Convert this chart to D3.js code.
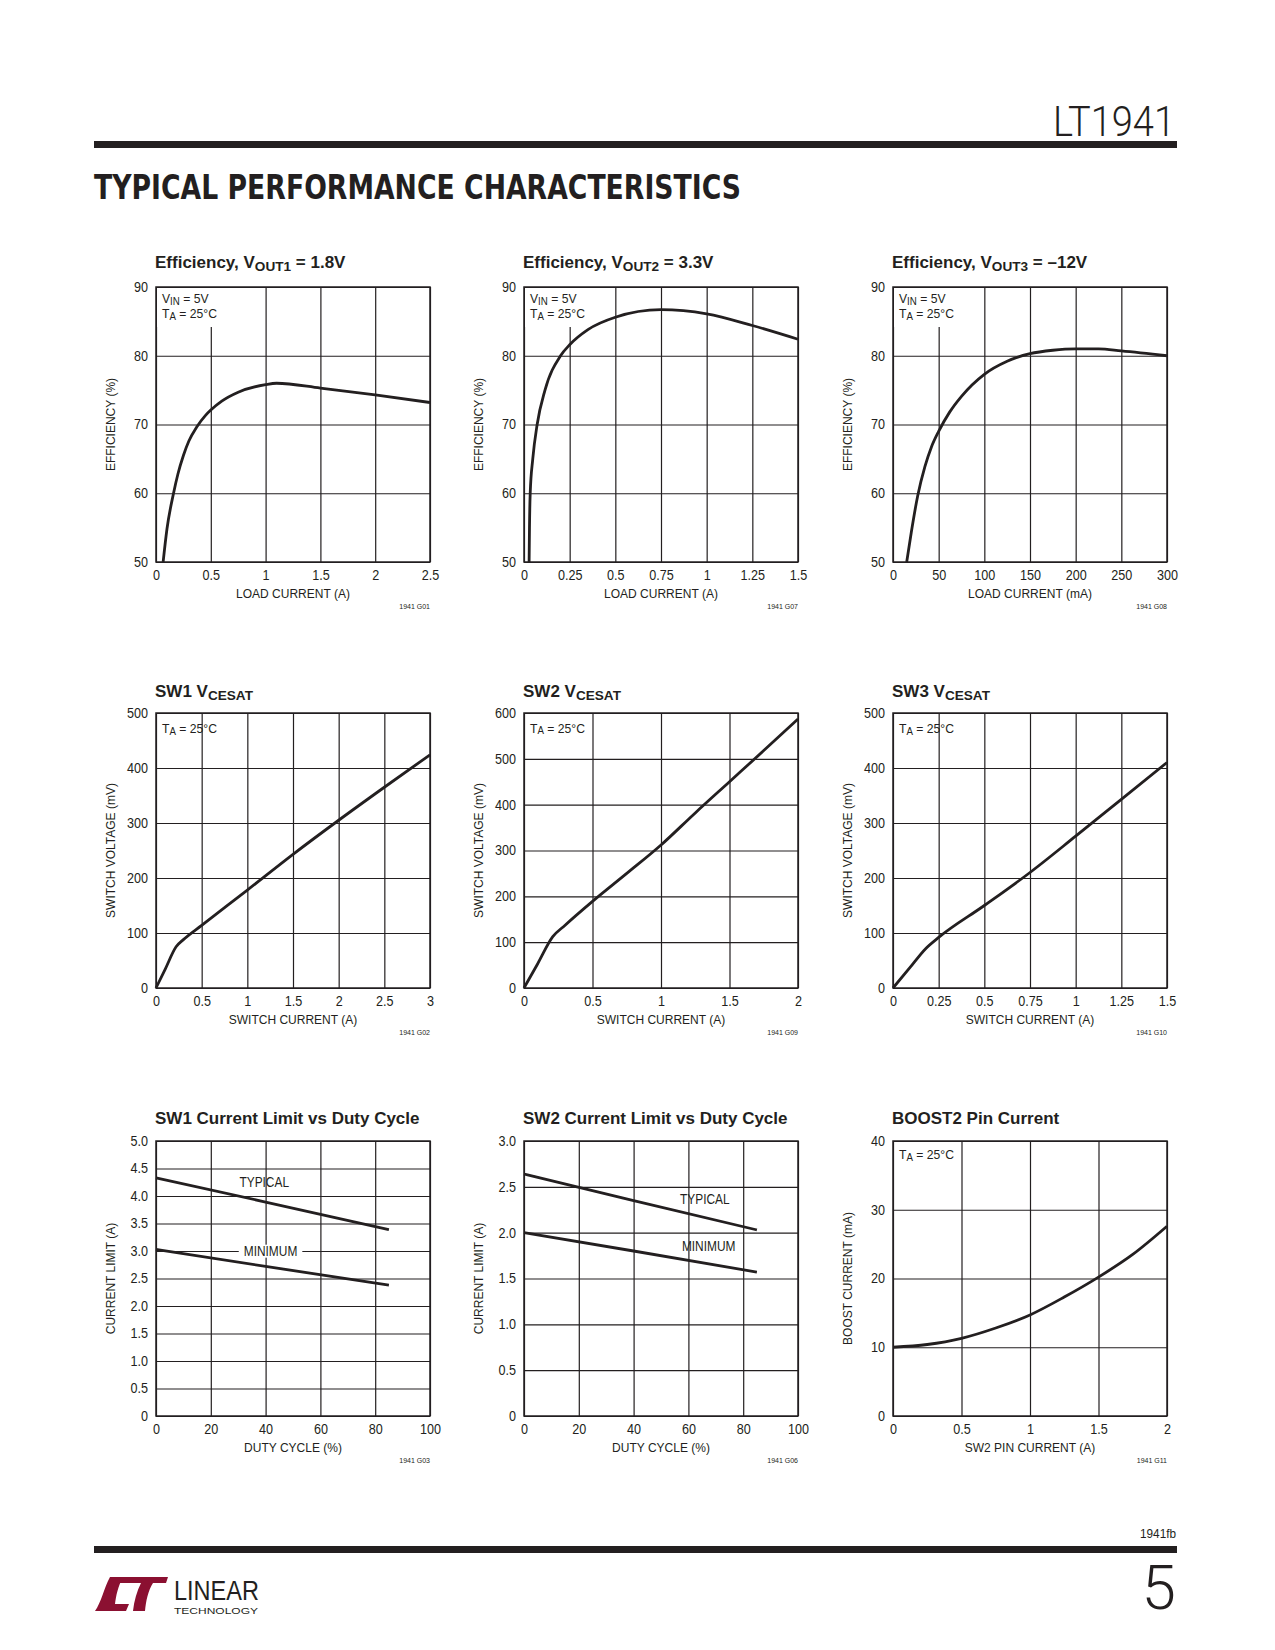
<!DOCTYPE html>
<html>
<head>
<meta charset="utf-8">
<script src="https://cdn.jsdelivr.net/npm/d3@7"></script>
<style>
  body { margin: 0; background: #fff; }
  text { font-family: "Liberation Sans", Arial, Helvetica, sans-serif; fill: #231f20; }
</style>
</head>
<body>
<svg id="page" width="1275" height="1650"></svg>
<script>
// ---------- data ----------

// Efficiency, VOUT1 = 1.8V  (load current A, efficiency %)
var eff1Current = [0.065, 0.1, 0.16, 0.2, 0.25, 0.3, 0.37, 0.45, 0.5, 0.6, 0.75, 1, 1.1, 1.5, 2, 2.5];
var eff1Value   = [50, 54.8, 60, 62.8, 65.5, 67.6, 69.6, 71.3, 72.1, 73.4, 74.7, 75.8, 76, 75.3, 74.3, 73.2];

// Efficiency, VOUT2 = 3.3V
var eff2Current = [0.028, 0.03, 0.034, 0.048, 0.072, 0.115, 0.2, 0.25, 0.35, 0.5, 0.75, 1, 1.25, 1.5];
var eff2Value   = [50, 55, 60, 65, 70, 75, 80, 81.6, 83.8, 85.6, 86.7, 86.1, 84.4, 82.4];

// Efficiency, VOUT3 = -12V  (load current mA)
var eff3Current = [15, 20, 27, 35, 42, 50, 62, 75, 100, 125, 150, 175, 200, 225, 250, 300];
var eff3Value   = [50, 54.3, 59.6, 63.9, 66.7, 69, 71.8, 74.1, 77.3, 79.2, 80.3, 80.8, 81, 81, 80.7, 80];

// SW1/SW2/SW3 VCESAT  (switch current A, switch voltage mV)
var sw1Current = [0, 0.1, 0.22, 0.3, 0.5, 1, 1.5, 2, 2.5, 3];
var sw1Voltage = [0, 34, 75, 88, 114, 178, 243, 305, 365, 424];
var sw2Current = [0, 0.1, 0.21, 0.3, 0.5, 0.75, 1, 1.25, 1.5, 1.75, 2];
var sw2Voltage = [0, 53, 112, 137, 189, 250, 312, 382, 450, 518, 587];
var sw3Current = [0, 0.09, 0.18, 0.25, 0.5, 0.75, 1, 1.25, 1.5];
var sw3Voltage = [0, 36, 72, 92, 150, 210, 276, 343, 410];

// current limit vs duty cycle  (duty %, current A)
var dutyCycle      = [0, 40, 85];
var sw1LimTypical  = [4.33, 3.89, 3.39];
var sw1LimMinimum  = [3.03, 2.72, 2.38];
var sw2LimTypical  = [2.64, 2.35, 2.03];
var sw2LimMinimum  = [2.0, 1.8, 1.57];

// BOOST2 pin current  (SW2 pin current A, boost current mA)
var boostSwCurrent = [0, 0.25, 0.5, 0.75, 1, 1.25, 1.5, 1.75, 2];
var boostCurrent   = [10, 10.4, 11.3, 12.8, 14.7, 17.3, 20.2, 23.5, 27.6];

// tick values and labels
var effYTicks   = [50, 60, 70, 80, 90];
var eff1XTicks  = [0, 0.5, 1, 1.5, 2, 2.5];
var eff2XTicks  = [0, 0.25, 0.5, 0.75, 1, 1.25, 1.5];
var eff3XTicks  = [0, 50, 100, 150, 200, 250, 300];
var sw1XTicks   = [0, 0.5, 1, 1.5, 2, 2.5, 3];
var sw2XTicks   = [0, 0.5, 1, 1.5, 2];
var sw3XTicks   = [0, 0.25, 0.5, 0.75, 1, 1.25, 1.5];
var sw500YTicks = [0, 100, 200, 300, 400, 500];
var sw600YTicks = [0, 100, 200, 300, 400, 500, 600];
var dutyXTicks  = [0, 20, 40, 60, 80, 100];
var lim1YTicks  = [0, 0.5, 1, 1.5, 2, 2.5, 3, 3.5, 4, 4.5, 5];
var lim1YLabels = ["0", "0.5", "1.0", "1.5", "2.0", "2.5", "3.0", "3.5", "4.0", "4.5", "5.0"];
var lim2YTicks  = [0, 0.5, 1, 1.5, 2, 2.5, 3];
var lim2YLabels = ["0", "0.5", "1.0", "1.5", "2.0", "2.5", "3.0"];
var boostYTicks = [0, 10, 20, 30, 40];

// ---------- layout ----------
var ink = "#231f20";
var colLeft = [156, 524, 893];
var rowTop = [287, 713, 1141];
var plotW = 274, plotH = 275;

var svg = d3.select("#page");

// squeeze text horizontally to imitate the condensed datasheet face
function condense(sel, k) {
  sel.each(function() {
    var len = this.getComputedTextLength();
    d3.select(this).attr("textLength", len * k).attr("lengthAdjust", "spacingAndGlyphs");
  });
  return sel;
}

// text with subscripts: parts starting with "_" are subscript
function richText(parent, x, y, parts, size, weight, subShift) {
  var t = parent.append("text")
    .attr("x", x).attr("y", y)
    .style("font-size", size + "px")
    .style("font-weight", weight || "normal");
  var shift = 0;
  parts.forEach(function(p) {
    var sub = p.charAt(0) === "_";
    var want = sub ? (subShift !== undefined ? subShift : Math.round(size * 0.2)) : 0;
    t.append("tspan")
      .attr("dy", want - shift)
      .style("font-size", (sub ? size * 0.8 : size) + "px")
      .text(sub ? p.slice(1) : p);
    shift = want;
  });
  return t;
}

function drawChart(c) {
  var g = svg.append("g").attr("transform", `translate(${c.left}, ${c.top})`);
  var x = d3.scaleLinear().domain(c.xDomain).range([0, plotW]);
  var y = d3.scaleLinear().domain(c.yDomain).range([plotH, 0]);

  // axes with grid lines
  var xAxis = d3.axisBottom(x).tickValues(c.xTicks)
    .tickSizeInner(-plotH).tickSizeOuter(0).tickPadding(8)
    .tickFormat(function(d, i) { return c.xLabels ? c.xLabels[i] : String(d); });
  var yAxis = d3.axisLeft(y).tickValues(c.yTicks)
    .tickSizeInner(-plotW).tickSizeOuter(0).tickPadding(8)
    .tickFormat(function(d, i) { return c.yLabels ? c.yLabels[i] : String(d); });

  var gx = g.append("g").attr("transform", `translate(0, ${plotH})`).call(xAxis);
  var gy = g.append("g").call(yAxis);
  [gx, gy].forEach(function(a) {
    a.select(".domain").remove();
    a.selectAll("line").attr("stroke", ink).attr("stroke-width", 1.2);
    var tx = a.selectAll("text").attr("fill", ink).style("font-size", "14px")
      .style("font-family", "'Liberation Sans', Arial, sans-serif");
    condense(tx, 0.9);
  });

  // frame
  g.append("rect").attr("width", plotW).attr("height", plotH)
    .attr("fill", "none").attr("stroke", ink).attr("stroke-width", 1.5);

  // note in upper-left corner
  if (c.notes) {
    var mask = c.noteMask ? g.append("rect").attr("fill", "#fff") : null;
    var widest = 0;
    c.notes.forEach(function(parts, i) {
      var t = richText(g, 6, c.noteY + i * 15, parts, 13.5, "normal", 1.5);
      condense(t, 0.9);
      widest = Math.max(widest, +t.attr("textLength"));
    });
    if (mask) {
      mask.attr("x", 1).attr("y", 1)
        .attr("width", widest + 8).attr("height", c.noteMask);
    }
  }

  // curves
  var line = d3.line()
    .x(function(d) { return x(d[0]); })
    .y(function(d) { return y(d[1]); })
    .curve(d3.curveMonotoneX);
  c.series.forEach(function(s) {
    g.append("path").datum(d3.zip(s[0], s[1]))
      .attr("d", line)
      .attr("fill", "none").attr("stroke", ink)
      .attr("stroke-width", 2.8).attr("stroke-linecap", "butt");
  });

  // curve labels
  (c.labels || []).forEach(function(l) {
    var lx = x(l.at[0]), ly = y(l.at[1]);
    var t = g.append("text").attr("x", lx).attr("y", ly)
      .attr("text-anchor", "middle").style("font-size", "14px").text(l.text);
    condense(t, 0.85);
    if (l.mask) {
      var w = +t.attr("textLength");
      g.insert("rect", function() { return t.node(); })
        .attr("x", lx - w / 2 - 5).attr("y", ly - 11)
        .attr("width", w + 10).attr("height", 13).attr("fill", "#fff");
    }
  });

  // titles
  richText(g, -1, -c.titleDy, c.title, 17, "bold");
  g.append("text").attr("x", plotW / 2).attr("y", plotH + 35.5)
    .attr("text-anchor", "middle").style("font-size", "12px").text(c.xTitle);
  g.append("text")
    .attr("transform", `translate(-41, ${plotH / 2}) rotate(-90)`)
    .attr("text-anchor", "middle").style("font-size", "12px").text(c.yTitle);
  g.append("text").attr("x", plotW).attr("y", plotH + 47)
    .attr("text-anchor", "end").style("font-size", "7px").text(c.code);
}

var vinNote = [["V", "_IN", " = 5V"], ["T", "_A", " = 25°C"]];
var taNote = [["T", "_A", " = 25°C"]];

var charts = [
  { left: colLeft[0], top: rowTop[0], xDomain: [0, 2.5], yDomain: [50, 90],
    xTicks: eff1XTicks, yTicks: effYTicks, series: [[eff1Current, eff1Value]],
    title: ["Efficiency, V", "_OUT1", " = 1.8V"], titleDy: 19,
    xTitle: "LOAD CURRENT (A)", yTitle: "EFFICIENCY (%)", code: "1941 G01",
    notes: vinNote, noteY: 16, noteMask: 39 },
  { left: colLeft[1], top: rowTop[0], xDomain: [0, 1.5], yDomain: [50, 90],
    xTicks: eff2XTicks, yTicks: effYTicks, series: [[eff2Current, eff2Value]],
    title: ["Efficiency, V", "_OUT2", " = 3.3V"], titleDy: 19,
    xTitle: "LOAD CURRENT (A)", yTitle: "EFFICIENCY (%)", code: "1941 G07",
    notes: vinNote, noteY: 16, noteMask: 39 },
  { left: colLeft[2], top: rowTop[0], xDomain: [0, 300], yDomain: [50, 90],
    xTicks: eff3XTicks, yTicks: effYTicks, series: [[eff3Current, eff3Value]],
    title: ["Efficiency, V", "_OUT3", " = \u201312V"], titleDy: 19,
    xTitle: "LOAD CURRENT (mA)", yTitle: "EFFICIENCY (%)", code: "1941 G08",
    notes: vinNote, noteY: 16, noteMask: 39 },
  { left: colLeft[0], top: rowTop[1], xDomain: [0, 3], yDomain: [0, 500],
    xTicks: sw1XTicks, yTicks: sw500YTicks, series: [[sw1Current, sw1Voltage]],
    title: ["SW1 V", "_CESAT"], titleDy: 16,
    xTitle: "SWITCH CURRENT (A)", yTitle: "SWITCH VOLTAGE (mV)", code: "1941 G02",
    notes: taNote, noteY: 20 },
  { left: colLeft[1], top: rowTop[1], xDomain: [0, 2], yDomain: [0, 600],
    xTicks: sw2XTicks, yTicks: sw600YTicks, series: [[sw2Current, sw2Voltage]],
    title: ["SW2 V", "_CESAT"], titleDy: 16,
    xTitle: "SWITCH CURRENT (A)", yTitle: "SWITCH VOLTAGE (mV)", code: "1941 G09",
    notes: taNote, noteY: 19.5 },
  { left: colLeft[2], top: rowTop[1], xDomain: [0, 1.5], yDomain: [0, 500],
    xTicks: sw3XTicks, yTicks: sw500YTicks, series: [[sw3Current, sw3Voltage]],
    title: ["SW3 V", "_CESAT"], titleDy: 16,
    xTitle: "SWITCH CURRENT (A)", yTitle: "SWITCH VOLTAGE (mV)", code: "1941 G10",
    notes: taNote, noteY: 20 },
  { left: colLeft[0], top: rowTop[2], xDomain: [0, 100], yDomain: [0, 5],
    xTicks: dutyXTicks, yTicks: lim1YTicks, yLabels: lim1YLabels,
    series: [[dutyCycle, sw1LimTypical], [dutyCycle, sw1LimMinimum]],
    title: ["SW1 Current Limit vs Duty Cycle"], titleDy: 17.5,
    xTitle: "DUTY CYCLE (%)", yTitle: "CURRENT LIMIT (A)", code: "1941 G03",
    labels: [{ text: "TYPICAL", at: [39.5, 4.17] },
             { text: "MINIMUM", at: [41.8, 2.915], mask: true }] },
  { left: colLeft[1], top: rowTop[2], xDomain: [0, 100], yDomain: [0, 3],
    xTicks: dutyXTicks, yTicks: lim2YTicks, yLabels: lim2YLabels,
    series: [[dutyCycle, sw2LimTypical], [dutyCycle, sw2LimMinimum]],
    title: ["SW2 Current Limit vs Duty Cycle"], titleDy: 17.5,
    xTitle: "DUTY CYCLE (%)", yTitle: "CURRENT LIMIT (A)", code: "1941 G06",
    labels: [{ text: "TYPICAL", at: [66, 2.312] },
             { text: "MINIMUM", at: [67.4, 1.797] }] },
  { left: colLeft[2], top: rowTop[2], xDomain: [0, 2], yDomain: [0, 40],
    xTicks: sw2XTicks, yTicks: boostYTicks, series: [[boostSwCurrent, boostCurrent]],
    title: ["BOOST2 Pin Current"], titleDy: 17.5,
    xTitle: "SW2 PIN CURRENT (A)", yTitle: "BOOST CURRENT (mA)", code: "1941 G11",
    notes: taNote, noteY: 18 }
];

charts.forEach(drawChart);

// ---------- page header ----------
svg.append("text").attr("x", 1175).attr("y", 136).attr("text-anchor", "end")
  .style("font-family", "Roboto, 'Liberation Sans', sans-serif").style("font-weight", 300)
  .style("font-size", "42px").attr("textLength", 122).attr("lengthAdjust", "spacingAndGlyphs")
  .text("LT1941");
svg.append("rect").attr("x", 94).attr("y", 141).attr("width", 1083).attr("height", 7).attr("fill", ink);
svg.append("text").attr("x", 94).attr("y", 198.5)
  .style("font-family", "'DejaVu Sans', 'Liberation Sans', sans-serif")
  .style("font-size", "33px").style("font-weight", "bold")
  .attr("textLength", 647).attr("lengthAdjust", "spacingAndGlyphs")
  .text("TYPICAL PERFORMANCE CHARACTERISTICS");

// ---------- page footer ----------
svg.append("text").attr("x", 1176).attr("y", 1538).attr("text-anchor", "end")
  .style("font-size", "12.5px").attr("textLength", 36).attr("lengthAdjust", "spacingAndGlyphs")
  .text("1941fb");
svg.append("rect").attr("x", 94).attr("y", 1546).attr("width", 1083).attr("height", 7).attr("fill", ink);
svg.append("text").attr("x", 1176).attr("y", 1609).attr("text-anchor", "end")
  .style("font-family", "Roboto, 'Liberation Sans', sans-serif").style("font-weight", 300)
  .style("font-size", "62px").text("5");

// logo
var maroon = "#8b1031";
var logo = svg.append("g").attr("fill", maroon);
logo.append("path").attr("d",
  "M110,1577 L123,1577 C118,1586 116,1596 115,1604 L129,1604 L126,1611 L95,1611 C101,1603 104,1588 110,1577 Z");
logo.append("path").attr("d",
  "M121,1577 L168,1577 L166,1583 L153,1583 C148,1591 146,1601 145,1611 L133,1611 C134,1601 137,1591 141,1583 L119,1583 Z");
logo.append("text").attr("x", 174).attr("y", 1600).attr("fill", maroon)
  .style("font-size", "28px").attr("textLength", 85).attr("lengthAdjust", "spacingAndGlyphs")
  .text("LINEAR");
logo.append("text").attr("x", 174).attr("y", 1614).attr("fill", maroon)
  .style("font-size", "8.5px").attr("textLength", 84).attr("lengthAdjust", "spacingAndGlyphs")
  .text("TECHNOLOGY");
</script>
</body>
</html>
